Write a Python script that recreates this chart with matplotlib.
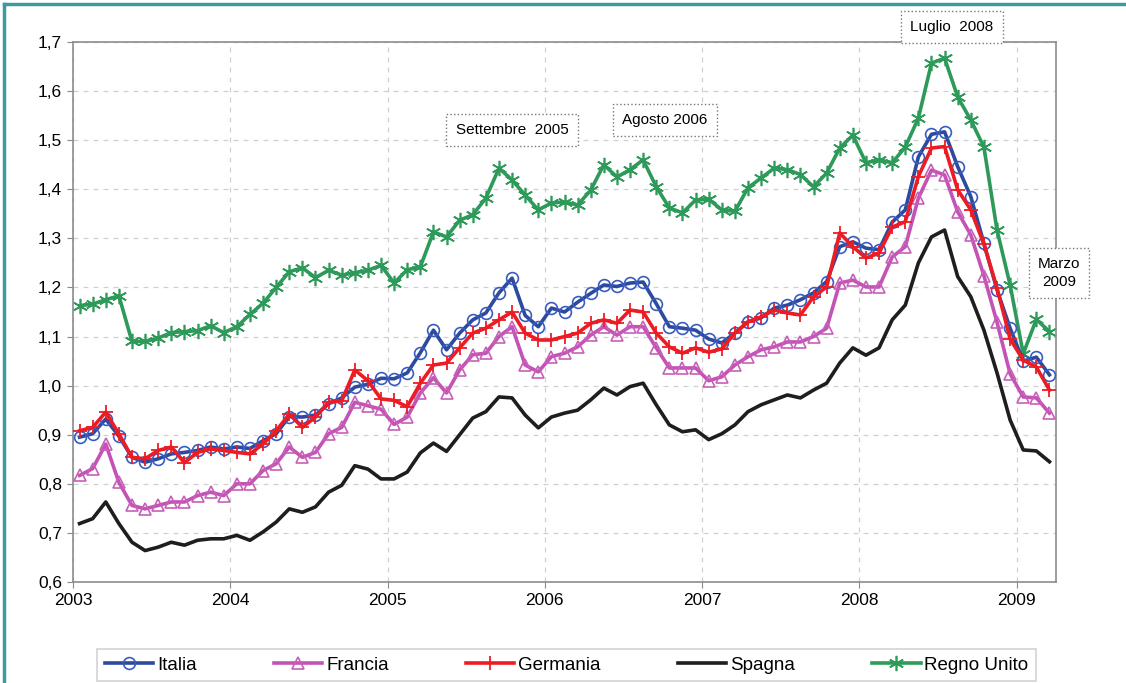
import matplotlib
matplotlib.use("Agg")
import matplotlib.pyplot as plt
from matplotlib.lines import Line2D
import pandas as pd

plt.rcParams['font.family'] = ['Liberation Sans', 'DejaVu Sans']

# Mesi: gennaio 2003 - marzo 2009
mesi = pd.date_range('2003-01-01', '2009-03-01', freq='MS')

italia = [0.895, 0.902, 0.932, 0.897, 0.854, 0.844, 0.851, 0.861, 0.864, 0.868, 0.875, 0.871,
          0.875, 0.872, 0.888, 0.902, 0.937, 0.936, 0.940, 0.963, 0.975, 0.997, 1.003, 1.015,
          1.014, 1.026, 1.067, 1.113, 1.073, 1.107, 1.134, 1.148, 1.189, 1.219, 1.143, 1.120,
          1.158, 1.150, 1.170, 1.188, 1.205, 1.202, 1.209, 1.211, 1.167, 1.120, 1.117, 1.113,
          1.095, 1.087, 1.107, 1.130, 1.138, 1.158, 1.164, 1.175, 1.189, 1.212, 1.283, 1.293,
          1.280, 1.277, 1.333, 1.358, 1.466, 1.512, 1.517, 1.446, 1.385, 1.290, 1.195, 1.117,
          1.050, 1.058, 1.022]
francia = [0.817, 0.831, 0.881, 0.803, 0.756, 0.749, 0.756, 0.763, 0.763, 0.776, 0.783, 0.776,
           0.800, 0.800, 0.827, 0.841, 0.875, 0.854, 0.864, 0.902, 0.915, 0.966, 0.959, 0.952,
           0.921, 0.936, 0.985, 1.016, 0.985, 1.032, 1.063, 1.066, 1.100, 1.120, 1.042, 1.028,
           1.059, 1.066, 1.079, 1.103, 1.120, 1.103, 1.120, 1.120, 1.077, 1.036, 1.036, 1.036,
           1.010, 1.018, 1.042, 1.059, 1.073, 1.079, 1.089, 1.089, 1.100, 1.117, 1.209, 1.215,
           1.201, 1.201, 1.262, 1.283, 1.382, 1.439, 1.429, 1.354, 1.307, 1.224, 1.129, 1.024,
           0.977, 0.975, 0.944]
germania = [0.908, 0.915, 0.946, 0.902, 0.854, 0.851, 0.868, 0.875, 0.843, 0.864, 0.871, 0.868,
            0.864, 0.861, 0.881, 0.908, 0.942, 0.915, 0.936, 0.966, 0.969, 1.032, 1.010, 0.973,
            0.970, 0.957, 1.005, 1.042, 1.046, 1.077, 1.107, 1.117, 1.134, 1.150, 1.107, 1.093,
            1.093, 1.100, 1.107, 1.127, 1.134, 1.127, 1.154, 1.150, 1.107, 1.079, 1.066, 1.077,
            1.068, 1.075, 1.107, 1.130, 1.140, 1.154, 1.148, 1.144, 1.181, 1.201, 1.311, 1.283,
            1.260, 1.270, 1.323, 1.334, 1.426, 1.484, 1.487, 1.399, 1.358, 1.288, 1.199, 1.095,
            1.052, 1.038, 0.991]
spagna = [0.719, 0.729, 0.763, 0.719, 0.681, 0.664, 0.671, 0.681, 0.675, 0.685, 0.688, 0.688,
          0.695, 0.685, 0.702, 0.722, 0.749, 0.742, 0.753, 0.783, 0.797, 0.837, 0.830, 0.810,
          0.810, 0.824, 0.863, 0.883, 0.866, 0.900, 0.934, 0.947, 0.977, 0.975, 0.940, 0.914,
          0.936, 0.944, 0.950, 0.971, 0.995, 0.981, 0.998, 1.005, 0.961, 0.920, 0.906, 0.910,
          0.890, 0.902, 0.920, 0.947, 0.961, 0.971, 0.981, 0.975, 0.991, 1.005, 1.046, 1.077,
          1.062, 1.077, 1.134, 1.164, 1.250, 1.303, 1.317, 1.222, 1.181, 1.113, 1.026, 0.930,
          0.869, 0.867, 0.845]
regno_unito = [1.163, 1.166, 1.175, 1.183, 1.090, 1.090, 1.097, 1.108, 1.110, 1.112, 1.122, 1.108,
               1.120, 1.145, 1.168, 1.200, 1.232, 1.240, 1.220, 1.235, 1.225, 1.230, 1.235, 1.245,
               1.209, 1.236, 1.242, 1.313, 1.303, 1.337, 1.348, 1.382, 1.443, 1.419, 1.388, 1.358,
               1.372, 1.374, 1.368, 1.398, 1.450, 1.425, 1.440, 1.460, 1.405, 1.362, 1.352, 1.378,
               1.380, 1.358, 1.355, 1.403, 1.423, 1.443, 1.440, 1.430, 1.405, 1.433, 1.484, 1.510,
               1.454, 1.460, 1.454, 1.486, 1.545, 1.657, 1.667, 1.588, 1.541, 1.486, 1.317, 1.205,
               1.065, 1.135, 1.110]

anni = [2003, 2004, 2005, 2006, 2007, 2008, 2009]
y_ticks = [0.6, 0.7, 0.8, 0.9, 1.0, 1.1, 1.2, 1.3, 1.4, 1.5, 1.6, 1.7]
y_labels = ['0,6', '0,7', '0,8', '0,9', '1,0', '1,1', '1,2', '1,3', '1,4', '1,5', '1,6', '1,7']

# posizione a metà mese in anni decimali
x = mesi.year + (mesi.month - 0.5) / 12

W, H = 1126, 683
fig = plt.figure(figsize=(W / 100, H / 100), dpi=100)
ax = fig.add_axes([73 / W, 1 - 582 / H, (1056 - 73) / W, (582 - 42) / H])

ax.plot(x, italia, color='#2c4a9e', lw=2.6, marker='o', ms=8.5, mfc='none',
        mec='#3a5cc0', mew=1.2, label='Italia', zorder=4)
ax.plot(x, francia, color='#c353b4', lw=2.6, marker='^', ms=8.5, mfc='none',
        mec='#c660b8', mew=1.2, label='Francia', zorder=3)
ax.plot(x, germania, color='#ec1c24', lw=2.6, marker='+', ms=10, mew=1.3,
        label='Germania', zorder=5)
ax.plot(x, spagna, color='#1e1e1e', lw=2.6, label='Spagna', zorder=2)
ax.plot(x, regno_unito, color='#2e9a5a', lw=2.6, marker=(6, 2, 0), ms=11, mew=1.2,
        label='Regno Unito', zorder=2)

ax.set_xlim(2003, 2009.25)
ax.set_ylim(0.6, 1.7)
ax.set_xticks(anni)
ax.set_xticklabels([str(a) for a in anni], fontsize=12.5)
ax.set_yticks(y_ticks)
ax.set_yticklabels(y_labels, fontsize=12.5)
ax.tick_params(axis='both', direction='out', length=4, color='#888888', pad=4)
ax.grid(True, color='#d0d0d0', ls=(0, (4, 4)), lw=0.9)
for s in ax.spines.values():
    s.set_color('#8c8c8c')
    s.set_linewidth(1.2)

# riquadri con le date
box = dict(boxstyle='square,pad=0.6', fc='white', ec='#777777', ls=':', lw=1)
fig.text(512 / W, 1 - 130 / H, 'Settembre  2005', fontsize=11, ha='center', va='center', bbox=box, zorder=10)
fig.text(665 / W, 1 - 120 / H, 'Agosto 2006', fontsize=11, ha='center', va='center', bbox=box, zorder=10)
fig.text(952 / W, 1 - 27 / H, 'Luglio  2008', fontsize=11, ha='center', va='center', bbox=box, zorder=10)
fig.text(1059 / W, 1 - 273 / H, 'Marzo\n2009', fontsize=11, ha='center', va='center',
         linespacing=1.3, bbox=box, zorder=10)

leg = fig.legend(loc='lower left', ncol=5, mode='expand',
                 bbox_to_anchor=(97 / W, 1 - 681 / H, (1036 - 97) / W, 43 / H),
                 fontsize=13.5, frameon=True, fancybox=False, edgecolor='#c8c8c8',
                 handlelength=2.6, handletextpad=0.2, borderaxespad=0)
leg.get_frame().set_linewidth(1.2)

# cornice esterna (solo lato superiore e sinistro)
fig.add_artist(Line2D([4 / W, 1], [1 - 4 / H, 1 - 4 / H], transform=fig.transFigure,
                      color='#3d9aa0', lw=2.5))
fig.add_artist(Line2D([4 / W, 4 / W], [0, 1 - 4 / H], transform=fig.transFigure,
                      color='#3d9aa0', lw=2.5))

fig.savefig('out.png', dpi=100)
